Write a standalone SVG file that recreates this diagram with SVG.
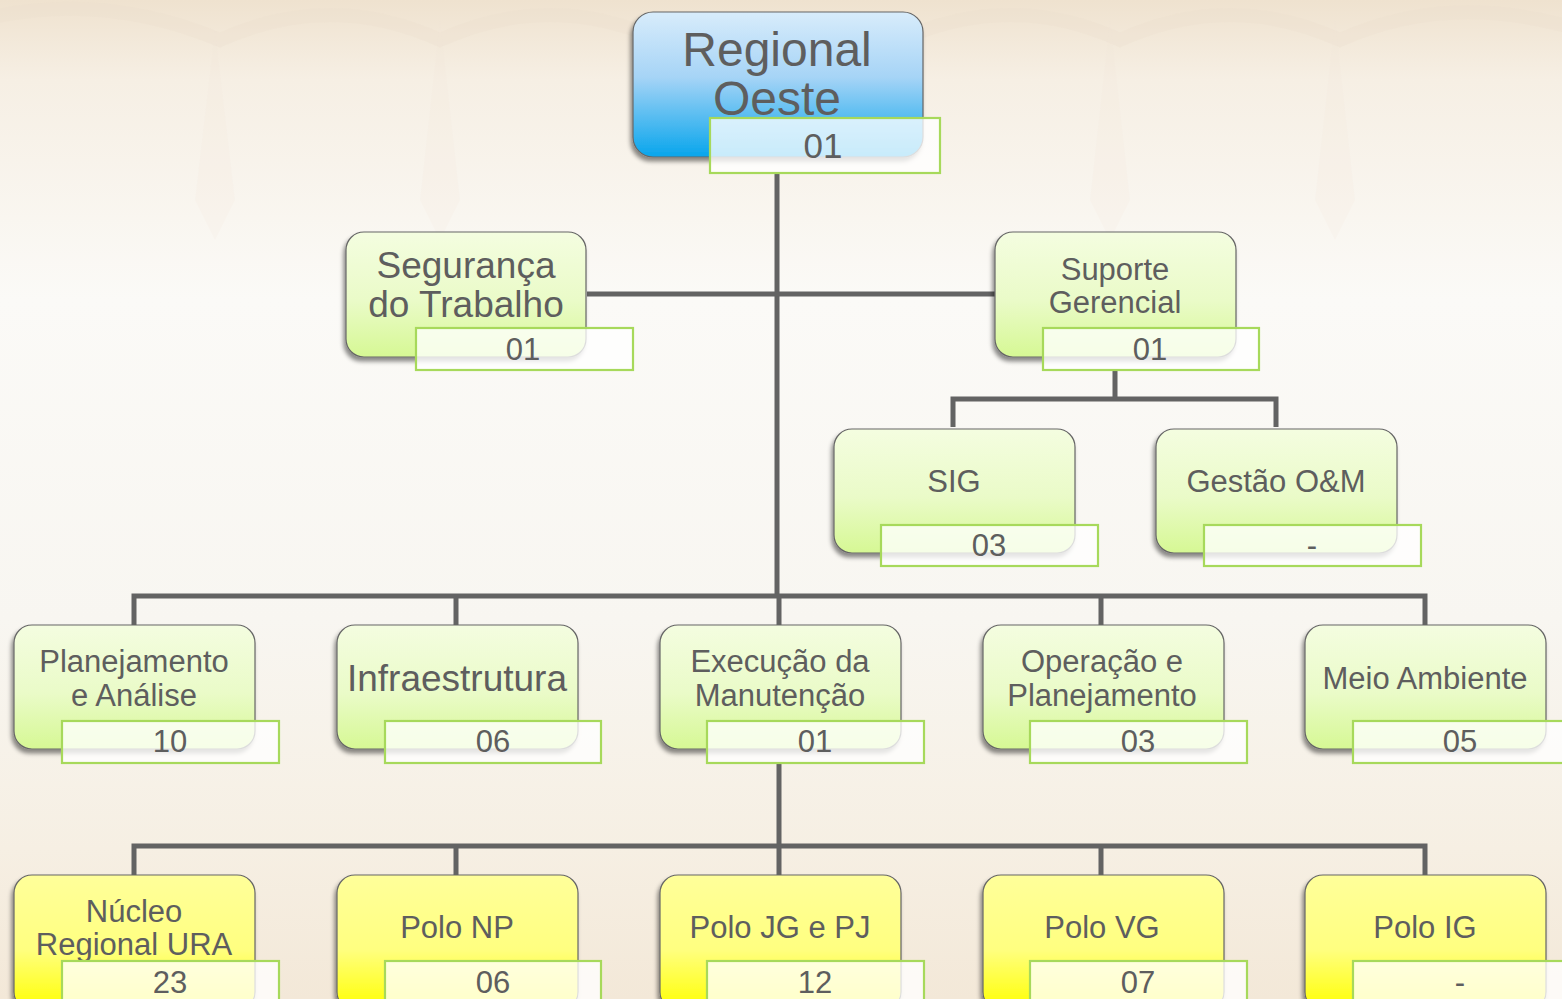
<svg xmlns="http://www.w3.org/2000/svg" width="1562" height="999" viewBox="0 0 1562 999">
<defs>
<linearGradient id="bg" x1="0" y1="0" x2="0" y2="1">
<stop offset="0" stop-color="#efe2cf"/>
<stop offset="0.08" stop-color="#f6efe4"/>
<stop offset="0.3" stop-color="#fbfaf7"/>
<stop offset="0.62" stop-color="#f8f6f1"/>
<stop offset="0.85" stop-color="#f6efe3"/>
<stop offset="1" stop-color="#f3e8d8"/>
</linearGradient>
<linearGradient id="gBlue" x1="0" y1="0" x2="0" y2="1">
<stop offset="0" stop-color="#d8ecfb"/>
<stop offset="0.45" stop-color="#a6d4f6"/>
<stop offset="1" stop-color="#08a5ec"/>
</linearGradient>
<linearGradient id="gGreen" x1="0" y1="0" x2="0" y2="1">
<stop offset="0" stop-color="#f4fde0"/>
<stop offset="0.55" stop-color="#eafbc8"/>
<stop offset="1" stop-color="#d6f894"/>
</linearGradient>
<linearGradient id="gYellow" x1="0" y1="0" x2="0" y2="1">
<stop offset="0" stop-color="#ffff9a"/>
<stop offset="0.55" stop-color="#ffff80"/>
<stop offset="1" stop-color="#ffff00"/>
</linearGradient>
<filter id="sh" x="-10%" y="-10%" width="120%" height="130%">
<feDropShadow dx="-2" dy="4" stdDeviation="2" flood-color="#000" flood-opacity="0.45"/>
</filter>
</defs>
<style>
.box{stroke:#666;stroke-width:1.2;filter:url(#sh)}
.green{fill:url(#gGreen)}
.blue{fill:url(#gBlue)}
.yellow{fill:url(#gYellow)}
.lab{fill:#ffffff;fill-opacity:0.78;stroke:#a7d95b;stroke-width:2.2}
text{font-family:"Liberation Sans",Arial,sans-serif;fill:#5e5e5e;text-anchor:middle}
.t30{font-size:31px}
.n30{font-size:31px}
.con{stroke:#636363;stroke-width:5;fill:none}
</style>
<rect width="1562" height="999" fill="url(#bg)"/>
<g fill="none" stroke="#eadfcd" stroke-width="14" opacity="0.3">
<path d="M-20 20 Q100 -10 220 40 Q330 -10 440 40 Q550 -10 660 40"/>
<path d="M900 40 Q1010 -10 1120 40 Q1230 -10 1340 40 Q1450 -10 1580 30"/>
</g>
<g fill="#efe6d6" opacity="0.15">
<path d="M215 30 L235 200 L215 240 L195 200 Z"/>
<path d="M440 20 L460 200 L440 240 L420 200 Z"/>
<path d="M1110 20 L1130 200 L1110 240 L1090 200 Z"/>
<path d="M1335 20 L1355 200 L1335 240 L1315 200 Z"/>
</g>

<g id="connectors">
<path class="con" d="M777 173 V597"/>
<path class="con" d="M587 294 H995"/>
<path class="con" d="M1115 370 V399 M953 427 V399 H1276 V427"/>
<path class="con" d="M134 625 V596 H1425 V625 M456 596 V625 M779 596 V625 M1101 596 V625"/>
<path class="con" d="M779 763 V845"/>
<path class="con" d="M134 875 V846 H1425 V875 M456 846 V875 M779 846 V875 M1101 846 V875"/>
</g>

<g id="node-regional">
<rect class="box blue" x="633" y="12" width="290" height="145" rx="20"/>
<text x="777" y="66" font-size="48">Regional</text>
<text x="777" y="115" font-size="48">Oeste</text>
<rect class="lab" x="710" y="118" width="230" height="55"/>
<text x="823" y="158" font-size="35">01</text>
</g>

<g id="node-seguranca">
<rect class="box green" x="346" y="232" width="240" height="125" rx="18"/>
<text x="466" y="278" font-size="37">Segurança</text>
<text x="466" y="317" font-size="37">do Trabalho</text>
<rect class="lab" x="416" y="328" width="217" height="42"/>
<text x="523" y="360" class="n30">01</text>
</g>

<g id="node-suporte">
<rect class="box green" x="995" y="232" width="241" height="125" rx="18"/>
<text x="1115" y="280" class="t30">Suporte</text>
<text x="1115" y="313" class="t30">Gerencial</text>
<rect class="lab" x="1043" y="328" width="216" height="42"/>
<text x="1150" y="360" class="n30">01</text>
</g>

<g id="node-sig">
<rect class="box green" x="834" y="429" width="241" height="124" rx="18"/>
<text x="954" y="492" class="t30">SIG</text>
<rect class="lab" x="881" y="525" width="217" height="41"/>
<text x="989" y="556" class="n30">03</text>
</g>

<g id="node-gestao">
<rect class="box green" x="1156" y="429" width="241" height="124" rx="18"/>
<text x="1276" y="492" class="t30">Gestão O&amp;M</text>
<rect class="lab" x="1204" y="525" width="217" height="41"/>
<text x="1312" y="556" class="n30">-</text>
</g>

<g id="node-planejamento">
<rect class="box green" x="14" y="625" width="241" height="124" rx="18"/>
<text x="134" y="672" class="t30">Planejamento</text>
<text x="134" y="706" class="t30">e Análise</text>
<rect class="lab" x="62" y="721" width="217" height="42"/>
<text x="170" y="752" class="n30">10</text>
</g>

<g id="node-infraestrutura">
<rect class="box green" x="337" y="625" width="241" height="124" rx="18"/>
<text x="457" y="691" font-size="37">Infraestrutura</text>
<rect class="lab" x="385" y="721" width="216" height="42"/>
<text x="493" y="752" class="n30">06</text>
</g>

<g id="node-execucao">
<rect class="box green" x="660" y="625" width="241" height="124" rx="18"/>
<text x="780" y="672" class="t30">Execução da</text>
<text x="780" y="706" class="t30">Manutenção</text>
<rect class="lab" x="707" y="721" width="217" height="42"/>
<text x="815" y="752" class="n30">01</text>
</g>

<g id="node-operacao">
<rect class="box green" x="983" y="625" width="241" height="124" rx="18"/>
<text x="1102" y="672" class="t30">Operação e</text>
<text x="1102" y="706" class="t30">Planejamento</text>
<rect class="lab" x="1030" y="721" width="217" height="42"/>
<text x="1138" y="752" class="n30">03</text>
</g>

<g id="node-meio">
<rect class="box green" x="1305" y="625" width="241" height="124" rx="18"/>
<text x="1425" y="689" class="t30">Meio Ambiente</text>
<rect class="lab" x="1353" y="721" width="217" height="42"/>
<text x="1460" y="752" class="n30">05</text>
</g>

<g id="node-nucleo">
<rect class="box yellow" x="14" y="875" width="241" height="135" rx="18"/>
<text x="134" y="922" class="t30">Núcleo</text>
<text x="134" y="955" class="t30">Regional URA</text>
<rect class="lab" x="62" y="961" width="217" height="50"/>
<text x="170" y="993" class="n30">23</text>
</g>

<g id="node-polo-np">
<rect class="box yellow" x="337" y="875" width="241" height="135" rx="18"/>
<text x="457" y="938" class="t30">Polo NP</text>
<rect class="lab" x="385" y="961" width="216" height="50"/>
<text x="493" y="993" class="n30">06</text>
</g>

<g id="node-polo-jg">
<rect class="box yellow" x="660" y="875" width="241" height="135" rx="18"/>
<text x="780" y="938" class="t30">Polo JG e PJ</text>
<rect class="lab" x="707" y="961" width="217" height="50"/>
<text x="815" y="993" class="n30">12</text>
</g>

<g id="node-polo-vg">
<rect class="box yellow" x="983" y="875" width="241" height="135" rx="18"/>
<text x="1102" y="938" class="t30">Polo VG</text>
<rect class="lab" x="1030" y="961" width="217" height="50"/>
<text x="1138" y="993" class="n30">07</text>
</g>

<g id="node-polo-ig">
<rect class="box yellow" x="1305" y="875" width="241" height="135" rx="18"/>
<text x="1425" y="938" class="t30">Polo IG</text>
<rect class="lab" x="1353" y="961" width="217" height="50"/>
<text x="1460" y="993" class="n30">-</text>
</g>
</svg>
